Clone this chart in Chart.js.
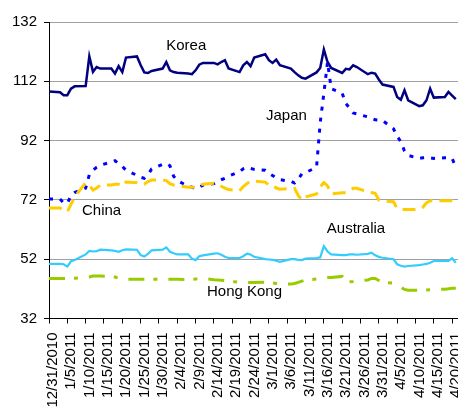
<!DOCTYPE html>
<html>
<head>
<meta charset="utf-8">
<script src="https://cdn.jsdelivr.net/npm/chart.js@4.4.0/dist/chart.umd.min.js"></script>
<style>
  html, body { margin: 0; padding: 0; background: #fff; }
  #wrap { width: 458px; height: 410px; }
</style>
</head>
<body>
<div id="wrap"><canvas id="chart"></canvas></div>
<script>
// trading days shown on the chart
const dates = [
  '12/31/2010',
  '1/3/2011', '1/4/2011', '1/5/2011', '1/6/2011', '1/7/2011',
  '1/10/2011', '1/11/2011', '1/12/2011', '1/13/2011', '1/14/2011',
  '1/17/2011', '1/18/2011', '1/19/2011', '1/20/2011', '1/21/2011',
  '1/24/2011', '1/25/2011', '1/26/2011', '1/27/2011', '1/28/2011',
  '1/31/2011', '2/1/2011', '2/2/2011', '2/3/2011', '2/4/2011',
  '2/7/2011', '2/8/2011', '2/9/2011', '2/10/2011', '2/11/2011',
  '2/14/2011', '2/15/2011', '2/16/2011', '2/17/2011', '2/18/2011',
  '2/21/2011', '2/22/2011', '2/23/2011', '2/24/2011', '2/25/2011',
  '2/28/2011', '3/1/2011', '3/2/2011', '3/3/2011', '3/4/2011',
  '3/7/2011', '3/8/2011', '3/9/2011', '3/10/2011', '3/11/2011',
  '3/14/2011', '3/15/2011', '3/16/2011', '3/17/2011', '3/18/2011',
  '3/21/2011', '3/22/2011', '3/23/2011', '3/24/2011', '3/25/2011',
  '3/28/2011', '3/29/2011', '3/30/2011', '3/31/2011', '4/1/2011',
  '4/4/2011', '4/5/2011', '4/6/2011', '4/7/2011', '4/8/2011',
  '4/11/2011', '4/12/2011', '4/13/2011', '4/14/2011', '4/15/2011',
  '4/18/2011', '4/19/2011', '4/20/2011', '4/21/2011'
];

const korea = [
  108.6,
  108.3, 107.3, 107.3, 109.5, 110.3,
  110.4, 120.4, 115.2, 116.8, 116.3,
  116.3, 114.6, 117.1, 115.1, 120.0,
  120.4, 117.5, 115.0, 114.8, 115.5,
  116.3, 118.5, 115.7, 115.1, 114.9,
  114.6, 114.4, 115.7, 117.6, 118.2,
  118.2, 117.7, 118.5, 119.1, 116.3,
  115.1, 117.4, 118.5, 117.1, 120.0,
  121.1, 119.1, 118.2, 119.3, 117.4,
  116.3, 115.1, 114.0, 113.2, 112.9,
  115.0, 116.5, 122.7, 118.5, 116.5,
  114.8, 116.2, 116.0, 117.4, 116.8,
  114.4, 114.9, 114.6, 112.6, 110.9,
  110.1, 106.7, 105.8, 109.0, 105.6,
  103.6, 103.9, 105.6, 109.5, 106.5,
  106.7, 108.4, 107.2, 106.0
];

const japan = [
  72.3,
  72.3, 71.0, 70.8, 73.5, 74.5,
  76.0, 80.5, 82.0, 83.0, 83.7,
  84.8, 85.2, 84.3, 83.3, 82.0,
  80.3, 79.6, 79.3, 80.5, 82.4,
  84.0, 84.3, 83.5, 80.0, 78.5,
  76.6, 76.3, 75.8, 76.3, 77.0,
  77.5, 78.2, 78.8, 79.3, 80.0,
  81.5, 82.5, 83.0, 82.6, 82.3,
  82.0, 81.0, 80.2, 79.5, 78.8,
  78.3, 77.7, 79.0, 80.8, 81.2,
  83.0, 98.0, 108.0, 118.5, 109.5,
  108.0, 104.5, 103.0, 101.3, 101.0,
  100.0, 99.5, 99.0, 98.9, 98.8,
  96.0, 93.5, 91.6, 88.5, 87.0,
  86.0, 86.2, 86.3, 86.2, 86.0,
  86.2, 86.2, 86.0, 83.0
];

const china = [
  69.3,
  69.3, 68.5, 68.0, 70.5, 73.0,
  77.8, 77.0, 75.3, 76.0, 77.0,
  77.0, 77.3, 77.3, 76.6, 78.0,
  77.8, 77.5, 77.3, 78.2, 78.7,
  78.7, 78.5, 77.5, 77.0, 76.8,
  76.3, 76.3, 76.3, 76.8, 77.3,
  77.6, 77.2, 76.6, 76.0, 75.5,
  75.1, 76.5, 77.5, 78.3, 78.3,
  78.0, 77.0, 77.0, 76.0, 75.6,
  75.8, 75.9, 73.5, 71.9, 73.0,
  74.0, 76.4, 77.8, 76.7, 74.0,
  74.4, 74.4, 75.3, 75.9, 75.9,
  74.7, 74.5, 74.2, 72.0, 71.6,
  71.4, 69.1, 68.9, 68.8, 68.8,
  68.8, 69.5, 71.0, 71.7, 71.7,
  71.7, 71.7, 71.7, 71.3
];

const australia = [
  50.4,
  50.4, 50.3, 49.5, 51.3, 51.7,
  53.6, 54.8, 54.6, 54.7, 55.2,
  55.0, 54.8, 54.5, 55.0, 55.3,
  55.2, 53.4, 52.9, 53.8, 55.0,
  55.2, 56.0, 54.5, 54.0, 53.6,
  53.6, 52.2, 51.7, 53.0, 53.3,
  53.9, 54.0, 53.5, 52.8, 52.4,
  52.4, 53.0, 53.9, 53.6, 52.8,
  52.0, 51.9, 51.8, 51.5, 51.1,
  52.0, 52.0, 51.8, 51.7, 52.2,
  52.4, 52.6, 56.4, 54.6, 53.6,
  53.4, 53.4, 53.6, 53.6, 53.5,
  53.8, 54.2, 53.3, 52.8, 52.5,
  52.0, 50.3, 49.8, 49.5, 49.7,
  50.0, 50.2, 50.4, 50.8, 51.4,
  51.4, 51.4, 52.3, 50.8
];

const hongKong = [
  45.5,
  45.5, 45.5, 45.5, 45.5, 45.6,
  45.8, 46.0, 46.3, 46.3, 46.3,
  46.2, 46.0, 45.6, 45.2, 45.2,
  45.2, 45.2, 45.2, 45.2, 45.2,
  45.2, 45.2, 45.2, 45.2, 45.2,
  45.1, 45.2, 45.3, 45.5, 45.5,
  45.1, 45.0, 44.9, 44.8, 44.6,
  44.2, 44.1, 44.1, 44.1, 44.1,
  44.2, 44.1, 44.0, 43.8, 43.6,
  43.6, 43.8, 44.2, 44.6, 45.0,
  45.3, 45.5, 45.7, 45.8, 45.8,
  46.2, 44.5, 44.4, 44.5, 44.8,
  45.0, 45.5, 45.5, 44.8, 44.1,
  44.0, 43.2, 42.6, 41.8, 41.5,
  41.5, 41.5, 41.6, 41.7, 41.8,
  41.9, 42.0, 42.2, 42.2
];

const tickLabels = [
  '12/31/2010', '1/5/2011', '1/10/2011', '1/15/2011', '1/20/2011', '1/25/2011',
  '1/30/2011', '2/4/2011', '2/9/2011', '2/14/2011', '2/19/2011', '2/24/2011',
  '3/1/2011', '3/6/2011', '3/11/2011', '3/16/2011', '3/21/2011', '3/26/2011',
  '3/31/2011', '4/5/2011', '4/10/2011', '4/15/2011', '4/20/2011'
];

// --- date helpers: x axis is days since 12/31/2010 ---
const start = Date.UTC(2010, 11, 31);
function dayOffset(s) {
  const [m, d, y] = s.split('/').map(Number);
  return (Date.UTC(y, m - 1, d) - start) / 86400000;
}
const xs = dates.map(dayOffset);
function points(values) {
  return values.map((v, i) => ({ x: xs[i], y: v }));
}

// series names written next to the lines
const seriesLabels = {
  id: 'seriesLabels',
  afterDatasetsDraw(chart, args, opts) {
    const { ctx, scales: { x, y } } = chart;
    ctx.save();
    ctx.font = '15px "Liberation Sans", Arial, sans-serif';
    ctx.fillStyle = '#000';
    ctx.textBaseline = 'middle';
    opts.items.forEach(it => {
      ctx.fillText(it.text, x.getPixelForValue(it.day), y.getPixelForValue(it.value));
    });
    ctx.restore();
  }
};

Chart.defaults.font.family = '"Liberation Sans", Arial, sans-serif';
Chart.defaults.font.size = 15;
Chart.defaults.color = '#000';

new Chart(document.getElementById('chart'), {
  type: 'line',
  data: {
    datasets: [
      { label: 'Hong Kong', data: points(hongKong), borderColor: '#99CC00', borderWidth: 3, borderDash: [16, 9, 4, 11] },
      { label: 'Australia', data: points(australia), borderColor: '#33CCFF', borderWidth: 2.2 },
      { label: 'China', data: points(china), borderColor: '#FFCC00', borderWidth: 3, borderDash: [13, 7] },
      { label: 'Japan', data: points(japan), borderColor: '#0000FF', borderWidth: 3, borderDash: [4, 7] },
      { label: 'Korea', data: points(korea), borderColor: '#000080', borderWidth: 2.5 }
    ]
  },
  options: {
    responsive: true,
    maintainAspectRatio: false,
    animation: false,
    layout: { padding: { top: 22, right: 0, bottom: 0, left: 0 } },
    elements: {
      point: { radius: 0 },
      line: { tension: 0, fill: false, borderCapStyle: 'butt' }
    },
    scales: {
      x: {
        type: 'linear',
        min: 0,
        max: 111.6,
        afterBuildTicks: scale => {
          scale.ticks = tickLabels.map(s => ({ value: dayOffset(s) }));
        },
        afterFit: scale => {
          scale.height = 91.5;
          scale.paddingLeft = 0;
          scale.paddingRight = 0;
        },
        ticks: {
          autoSkip: false,
          minRotation: 90,
          maxRotation: 90,
          padding: 9,
          labelOffset: 4,
          callback: (val, i) => tickLabels[i]
        },
        grid: { drawOnChartArea: false, color: '#000', tickLength: 5 },
        border: { color: '#000', width: 1 }
      },
      y: {
        min: 32,
        max: 132,
        afterFit: scale => { scale.width = 49; },
        ticks: { stepSize: 20, padding: 7 },
        grid: { color: '#A0A0A0', tickColor: '#000', tickLength: 5 },
        border: { color: '#000', width: 1 }
      }
    },
    plugins: {
      legend: { display: false },
      tooltip: { enabled: false },
      seriesLabels: {
        items: [
          { text: 'Korea', day: 32, value: 124 },
          { text: 'Japan', day: 59.2, value: 100.2 },
          { text: 'China', day: 9, value: 68.2 },
          { text: 'Australia', day: 75.8, value: 62.2 },
          { text: 'Hong Kong', day: 43.1, value: 40.9 }
        ]
      }
    }
  },
  plugins: [seriesLabels]
});
</script>
</body>
</html>
